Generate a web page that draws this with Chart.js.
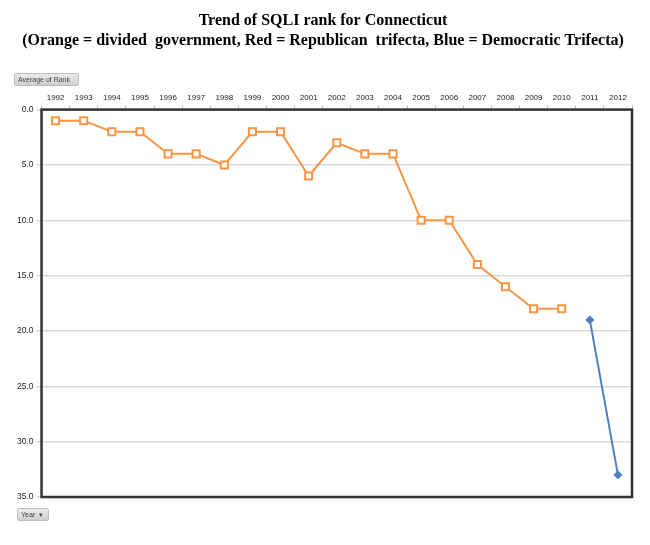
<!DOCTYPE html>
<html>
<head>
<meta charset="utf-8">
<script src="https://cdn.jsdelivr.net/npm/chart.js@4"></script>
<style>
  body { margin: 0; background: #fff; }
  #wrap { position: relative; width: 650px; height: 545px; }
  #myChart { position: absolute; left: 0; top: 0; }
  .btn {
    position: absolute;
    font: 7px 'Liberation Sans', Arial, sans-serif;
    color: #444;
    background: linear-gradient(#ececec, #cfcfcf);
    border: 1px solid #bdbdbd;
    border-radius: 2px;
    line-height: 11px;
    padding: 0 3px;
    box-sizing: border-box;
    height: 13px;
    white-space: nowrap;
    overflow: hidden;
  }
</style>
</head>
<body>
<div id="wrap">
  <canvas id="myChart" width="650" height="545"></canvas>
  <div class="btn" style="left:14px;top:73px;width:65px;">Average of Rank</div>
  <div class="btn" style="left:17px;top:508px;width:32px;">Year &nbsp;&#9662;</div>
</div>
<script>
'use strict'

const years = [
  '1992', '1993', '1994', '1995', '1996', '1997', '1998', '1999', '2000', '2001', '2002',
  '2003', '2004', '2005', '2006', '2007', '2008', '2009', '2010', '2011', '2012',
];

// divided government years (orange)
const dividedRank = [1, 1, 2, 2, 4, 4, 5, 2, 2, 6, 3, 4, 4, 10, 10, 14, 16, 18, 18, null, null];

// democratic trifecta years (blue)
const demRank = [null, null, null, null, null, null, null, null, null, null, null,
  null, null, null, null, null, null, null, null, 19, 33];

const titleLines = [
  'Trend of SQLI rank for Connecticut',
  '(Orange = divided  government, Red = Republican  trifecta, Blue = Democratic Trifecta)',
];

// thick frame round the plot
const plotFrame = {
  id: 'plotFrame',
  afterDraw(chart) {
    const { ctx, chartArea: a } = chart;
    ctx.save();
    ctx.strokeStyle = '#333';
    ctx.lineWidth = 2.5;
    ctx.strokeRect(a.left, a.top, a.right - a.left, a.bottom - a.top);
    ctx.restore();
  }
};

const data = {
  labels: years,
  datasets: [
    {
      label: 'Divided',
      data: dividedRank,
      borderColor: '#F79646',
      backgroundColor: '#fff',
      borderWidth: 2,
      pointStyle: 'rect',
      pointRadius: 5,
      pointBorderWidth: 2,
      pointBorderColor: '#F79646',
      pointBackgroundColor: '#fff',
      spanGaps: false,
    },
    {
      label: 'Democratic',
      data: demRank,
      borderColor: '#4F81BD',
      backgroundColor: '#4F81BD',
      borderWidth: 2,
      pointStyle: 'rectRot',
      pointRadius: 4,
      pointBorderWidth: 1,
      pointBackgroundColor: '#4F81BD',
    },
  ],
};

const config = {
  type: 'line',
  data: data,
  plugins: [plotFrame],
  options: {
    responsive: false,
    animation: false,
    layout: { padding: { left: 14, right: 18, top: 4, bottom: 48 } },
    plugins: {
      legend: { display: false },
      tooltip: { enabled: false },
      title: {
        display: true,
        text: titleLines,
        color: '#000',
        font: { family: "'Liberation Serif', 'Times New Roman', serif", size: 16, weight: 'bold', lineHeight: 1.25 },
        padding: { top: 7, bottom: 39 },
      },
    },
    scales: {
      x: {
        position: 'top',
        offset: true,
        grid: {
          offset: true,
          drawOnChartArea: false,
          drawTicks: true,
          tickLength: 4,
          color: '#bbb',
        },
        border: { display: false },
        ticks: {
          color: '#222',
          font: { family: "'Liberation Sans', Arial, sans-serif", size: 8 },
          maxRotation: 0,
          autoSkip: false,
          padding: 3,
        },
      },
      y: {
        reverse: true,
        min: 0,
        max: 35,
        border: { display: false },
        grid: {
          color: '#d9d9d9',
          lineWidth: 1.5,
          tickLength: 5,
        },
        ticks: {
          stepSize: 5,
          color: '#222',
          font: { family: "'Liberation Sans', Arial, sans-serif", size: 8.5 },
          padding: 3,
          callback: (v) => v.toFixed(1),
        },
      },
    },
  },
};

const myChart = new Chart(document.getElementById('myChart'), config);
</script>
</body>
</html>
